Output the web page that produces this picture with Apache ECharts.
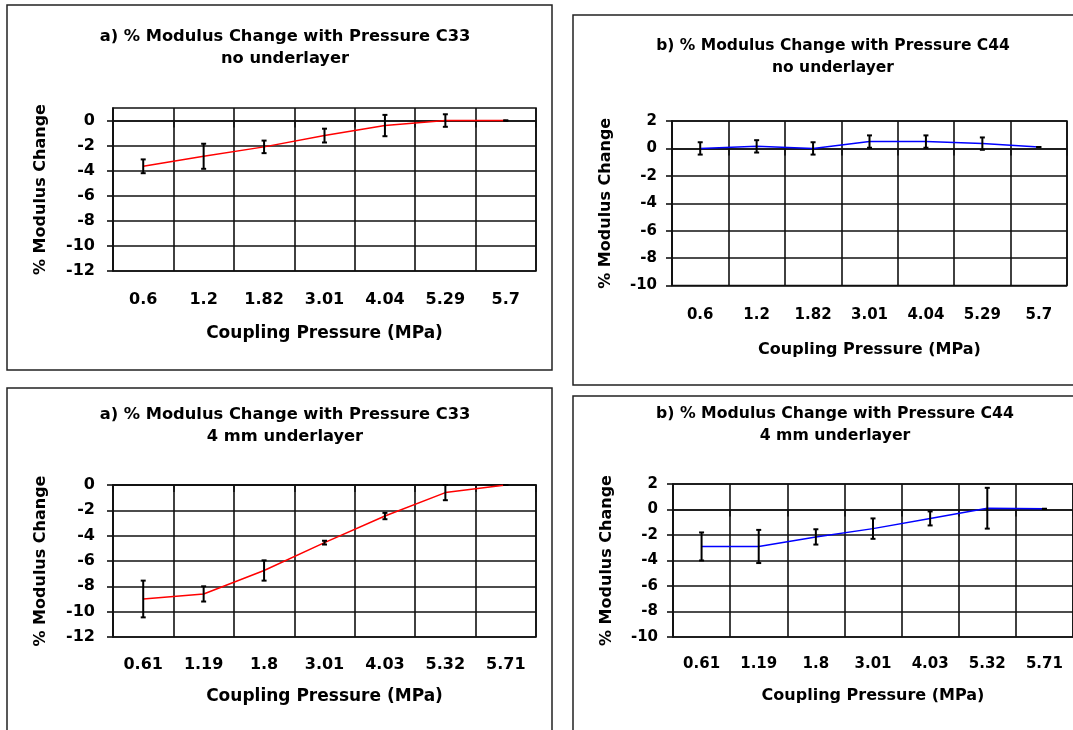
<!DOCTYPE html>
<html>
<head>
<meta charset="utf-8">
<title>% Modulus Change with Pressure</title>
<script src="https://cdn.jsdelivr.net/npm/echarts@6/dist/echarts.min.js"></script>
<style>
  html, body { margin: 0; padding: 0; background: #fff; }
  #chart { width: 1073px; height: 730px; }
</style>
</head>
<body>
<div id="chart"></div>
<script>
// Coupling pressure categories (MPa)
const pressuresNoUnderlayer = ['0.6', '1.2', '1.82', '3.01', '4.04', '5.29', '5.7'];
const pressures4mmUnderlayer = ['0.61', '1.19', '1.8', '3.01', '4.03', '5.32', '5.71'];

// % modulus change and error bar half-widths
const c33NoUnderlayer = [-3.65, -2.85, -2.1, -1.2, -0.4, 0, 0];
const c33NoUnderlayerErr = [0.55, 1.0, 0.5, 0.55, 0.85, 0.5, 0];
const c44NoUnderlayer = [0, 0.15, 0, 0.5, 0.5, 0.35, 0.1];
const c44NoUnderlayerErr = [0.45, 0.45, 0.45, 0.45, 0.45, 0.45, 0];
const c33Underlayer = [-9.0, -8.6, -6.75, -4.55, -2.45, -0.6, 0];
const c33UnderlayerErr = [1.45, 0.6, 0.8, 0.15, 0.25, 0.6, 0];
const c44Underlayer = [-2.9, -2.9, -2.15, -1.5, -0.7, 0.1, 0.05];
const c44UnderlayerErr = [1.1, 1.3, 0.6, 0.8, 0.55, 1.6, 0];

// Y tick values per panel
const yTicksC33 = [-12, -10, -8, -6, -4, -2, 0];
const yTicksC44 = [-10, -8, -6, -4, -2, 0, 2];

const FONT = 'DejaVu Sans';
const INK = '#000';

const panels = [
  { title: 'a) % Modulus Change with Pressure C33\nno underlayer', cx: 280, ty: 21, titleSize: 16.3, labelSize: 16, nameSize: 17,
    grid: { left: 113, top: 108, width: 423, height: 163 }, yMin: -12, yMax: 1, ticks: yTicksC33,
    cats: pressuresNoUnderlayer, values: c33NoUnderlayer, errs: c33NoUnderlayerErr, color: '#ff0000',
    yLabelMargin: 18, xLabelMargin: 21, xNameGap: 54, yNameGap: 64 },
  { title: 'b) % Modulus Change with Pressure C44\nno underlayer', cx: 828, ty: 30, titleSize: 15.5, labelSize: 15, nameSize: 16,
    grid: { left: 672, top: 121, width: 395, height: 164.5 }, yMin: -10, yMax: 2, ticks: yTicksC44,
    cats: pressuresNoUnderlayer, values: c44NoUnderlayer, errs: c44NoUnderlayerErr, color: '#0000ff',
    yLabelMargin: 15, xLabelMargin: 22, xNameGap: 56, yNameGap: 58 },
  { title: 'a) % Modulus Change with Pressure C33\n4 mm underlayer', cx: 280, ty: 399, titleSize: 16.3, labelSize: 16, nameSize: 17,
    grid: { left: 113, top: 485, width: 423, height: 152 }, yMin: -12, yMax: 0, ticks: yTicksC33,
    cats: pressures4mmUnderlayer, values: c33Underlayer, errs: c33UnderlayerErr, color: '#ff0000',
    yLabelMargin: 18, xLabelMargin: 20, xNameGap: 51, yNameGap: 64 },
  { title: 'b) % Modulus Change with Pressure C44\n4 mm underlayer', cx: 830, ty: 398, titleSize: 15.7, labelSize: 15, nameSize: 16,
    grid: { left: 673, top: 484, width: 402, height: 153 }, yMin: -10, yMax: 2, ticks: yTicksC44,
    cats: pressures4mmUnderlayer, values: c44Underlayer, errs: c44UnderlayerErr, color: '#0000ff',
    yLabelMargin: 15, xLabelMargin: 20, xNameGap: 51, yNameGap: 58 }
];

const lineStyle = { color: '#111', width: 1.6 };
const labelFont = size => ({ fontFamily: FONT, fontWeight: 'bold', fontSize: size, color: INK });

// Vertical error bar with small caps
function renderErrorBar(params, api) {
  const i = api.value(0);
  const hi = api.coord([i, api.value(1) + api.value(2)]);
  const lo = api.coord([i, api.value(1) - api.value(2)]);
  const cap = 2.5;
  const style = { stroke: '#000', lineWidth: 2 };
  return {
    type: 'group',
    children: [
      { type: 'line', shape: { x1: hi[0], y1: hi[1], x2: lo[0], y2: lo[1] }, style },
      { type: 'line', shape: { x1: hi[0] - cap, y1: hi[1], x2: hi[0] + cap, y2: hi[1] }, style },
      { type: 'line', shape: { x1: lo[0] - cap, y1: lo[1], x2: lo[0] + cap, y2: lo[1] }, style }
    ]
  };
}

const frameStyle = { fill: 'none', stroke: '#222', lineWidth: 1.5 };

const option = {
  animation: false,
  backgroundColor: '#fff',
  title: panels.map(p => ({
    text: p.title,
    left: p.cx,
    top: p.ty,
    textAlign: 'center',
    textStyle: { fontFamily: FONT, fontWeight: 'bold', fontSize: p.titleSize, lineHeight: 22, color: INK }
  })),
  // Panel frames
  graphic: [
    { type: 'rect', shape: { x: 7, y: 5, width: 545, height: 365 }, style: frameStyle, z: 0 },
    { type: 'rect', shape: { x: 573, y: 15, width: 520, height: 370 }, style: frameStyle, z: 0 },
    { type: 'rect', shape: { x: 7, y: 388, width: 545, height: 360 }, style: frameStyle, z: 0 },
    { type: 'rect', shape: { x: 573, y: 396, width: 520, height: 360 }, style: frameStyle, z: 0 }
  ],
  grid: panels.map(p => Object.assign({ show: true, borderColor: '#111', borderWidth: 1.6, backgroundColor: '#fff' }, p.grid)),
  xAxis: panels.map((p, k) => ({
    type: 'category',
    gridIndex: k,
    data: p.cats,
    boundaryGap: true,
    name: 'Coupling Pressure (MPa)',
    nameLocation: 'middle',
    nameGap: p.xNameGap,
    nameTextStyle: labelFont(p.nameSize),
    axisLine: { lineStyle },
    axisTick: { show: true, length: 7, interval: 0, lineStyle },
    axisLabel: Object.assign({ interval: 0, margin: p.xLabelMargin }, labelFont(p.labelSize)),
    splitLine: { show: true, interval: 0, lineStyle }
  })),
  yAxis: panels.map((p, k) => ({
    type: 'value',
    gridIndex: k,
    min: p.yMin,
    max: p.yMax,
    interval: 2,
    name: '% Modulus Change',
    nameLocation: 'middle',
    nameRotate: 90,
    nameGap: p.yNameGap,
    nameTextStyle: labelFont(16),
    axisLine: { show: true, lineStyle },
    axisTick: { show: true, length: 6, lineStyle, customValues: p.ticks },
    axisLabel: Object.assign({ margin: p.yLabelMargin, customValues: p.ticks }, labelFont(p.labelSize)),
    splitLine: { show: true, lineStyle }
  })),
  series: panels.flatMap((p, k) => [
    {
      type: 'line',
      xAxisIndex: k,
      yAxisIndex: k,
      data: p.values,
      symbol: 'none',
      smooth: false,
      lineStyle: { color: p.color, width: 1.5 },
      z: 3
    },
    {
      type: 'custom',
      xAxisIndex: k,
      yAxisIndex: k,
      renderItem: renderErrorBar,
      encode: { x: 0, y: 1 },
      data: p.values.map((v, i) => [i, v, p.errs[i]]),
      z: 4
    }
  ])
};

const chart = echarts.init(document.getElementById('chart'), null, { renderer: 'canvas' });
chart.setOption(option);
</script>
</body>
</html>
